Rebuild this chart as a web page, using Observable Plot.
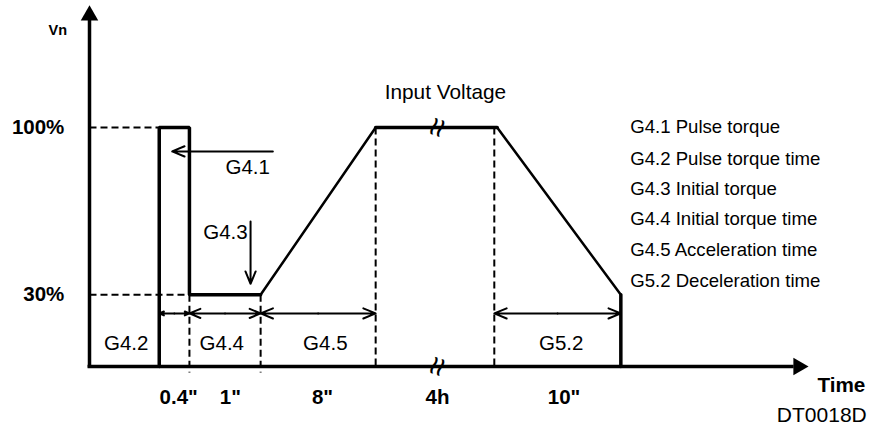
<!DOCTYPE html>
<html>
<head>
<meta charset="utf-8">
<script src="https://cdn.jsdelivr.net/npm/d3@7"></script>
<script src="https://cdn.jsdelivr.net/npm/@observablehq/plot@0.6"></script>
<style>
  html, body { margin: 0; padding: 0; background: #fff; }
  #chart { width: 870px; height: 425px; }
</style>
</head>
<body>
<div id="chart"></div>
<script>
// Schematic time axis (0..100 = axis length), voltage in % of Vn
const waveT = [9.7, 9.7, 13.9, 13.9, 23.8, 39.8, 56.7, 73.9, 73.9];
const waveV = [0, 100, 100, 30, 30, 100, 100, 30, 0];

// dashed guides
const guideX1 = [0, 0, 13.9, 23.8, 39.8, 56.3];
const guideX2 = [9.7, 13.9, 13.9, 23.8, 39.8, 56.3];
const guideY1 = [100, 30, 30, 30, 100, 100];
const guideY2 = [100, 30, -2.5, -2.5, 0, 0];

// dimension spans
const spanStart = [9.7, 13.9, 23.8, 56.3];
const spanEnd = [13.9, 23.8, 39.8, 73.9];
const spanLevel = 22.2;

const spanLabels = ["G4.2", "G4.4", "G4.5", "G5.2"];
const spanLabelX = [5.1, 18.4, 32.8, 65.6];

const timeLabels = ["0.4\"", "1\"", "8\"", "4h", "10\""];
const timeLabelX = [12.4, 19.6, 32.4, 48.4, 66.0];

const levelLabels = ["100%", "30%"];
const levelValues = [100, 30];

const legendLabels = [
  "G4.1 Pulse torque",
  "G4.2 Pulse torque time",
  "G4.3 Initial torque",
  "G4.4 Initial torque time",
  "G4.5 Acceleration time",
  "G5.2 Deceleration time"
];
const legendY = [100, 86.8, 74.2, 61.6, 48.7, 35.7];

const breakX = 48.4;
const breakV = [100, 0];

const wave = waveT.map((t, i) => ({t, v: waveV[i]}));
const flat = wave.slice(0, 5);
const ramps = [[wave[4], wave[5]], [wave[6], wave[7]]];
const tops = [[wave[5], wave[6]], [wave[7], wave[8]]];
const guides = guideX1.map((x, i) => ({x1: x, x2: guideX2[i], y1: guideY1[i], y2: guideY2[i]}));
const halfArrows = [];
spanStart.forEach((s, i) => {
  const m = (s + spanEnd[i]) / 2;
  halfArrows.push({x1: m, x2: s});
  halfArrows.push({x1: m, x2: spanEnd[i]});
});

const font = "Liberation Sans, Arial, Helvetica, sans-serif";
const arrowStyle = {stroke: "#000", strokeWidth: 2, headLength: 10, headAngle: 45};

const chart = Plot.plot({
  width: 870,
  height: 425,
  margin: 0,
  x: {domain: [0, 100], range: [89, 808], axis: null},
  y: {domain: [0, 100], range: [366, 127], axis: null},
  style: {fontFamily: font, background: "#fff", color: "#000", overflow: "visible"},
  marks: [
    // dashed guides
    Plot.link(guides, {x1: "x1", x2: "x2", y1: "y1", y2: "y2", stroke: "#000", strokeWidth: 2, strokeDasharray: "7,4"}),
    // axes
    Plot.ruleX([0], {y1: -0.6, y2: 145, stroke: "#000", strokeWidth: 3.5}),
    Plot.ruleY([0], {x1: -0.2, x2: 98, stroke: "#000", strokeWidth: 3.5}),
    Plot.dot([{x: 0, y: 146.9}], {x: "x", y: "y", symbol: "triangle", r: 6.5, fill: "#000", stroke: "none"}),
    Plot.dot([{x: 98.6, y: 0}], {x: "x", y: "y", symbol: "triangle", r: 6.5, rotate: 90, fill: "#000", stroke: "none"}),
    // waveform
    Plot.line(flat, {x: "t", y: "v", stroke: "#000", strokeWidth: 3.5, strokeLinejoin: "miter"}),
    ...ramps.map(seg => Plot.line(seg, {x: "t", y: "v", stroke: "#000", strokeWidth: 2.5})),
    ...tops.map(seg => Plot.line(seg, {x: "t", y: "v", stroke: "#000", strokeWidth: 3.5})),
    // dimension arrows
    Plot.arrow(halfArrows, {x1: "x1", x2: "x2", y1: spanLevel, y2: spanLevel, ...arrowStyle}),
    // G4.1 and G4.3 pointer arrows
    Plot.arrow([{x1: 25.5, x2: 11.5, y1: 90, y2: 90}], {x1: "x1", x2: "x2", y1: "y1", y2: "y2", ...arrowStyle}),
    Plot.arrow([{x1: 22.4, x2: 22.4, y1: 60.7, y2: 34.6}], {x1: "x1", x2: "x2", y1: "y1", y2: "y2", ...arrowStyle}),
    // break marks
    Plot.text(breakV, {x: breakX, y: d => d, text: () => "≈", rotate: -72, fontSize: 34, fill: "#000"}),
    // labels
    Plot.text(["G4.1"], {x: 25.1, y: 83.3, text: d => d, textAnchor: "end", fontSize: 20.5, fill: "#000"}),
    Plot.text(["G4.3"], {x: 22.0, y: 56, text: d => d, textAnchor: "end", fontSize: 20.5, fill: "#000"}),
    Plot.text(spanLabels, {x: (d, i) => spanLabelX[i], y: 9.6, text: d => d, fontSize: 20.5, fill: "#000"}),
    Plot.text(timeLabels, {x: (d, i) => timeLabelX[i], y: -13, text: d => d, fontSize: 20.5, fontWeight: "bold", fill: "#000"}),
    Plot.text(levelLabels, {x: -3.5, y: (d, i) => levelValues[i], text: d => d, textAnchor: "end", fontSize: 20.5, fontWeight: "bold", fill: "#000"}),
    Plot.text(["Vn"], {x: -4.4, y: 140.5, text: d => d, fontSize: 14.5, fontWeight: "bold", fill: "#000"}),
    Plot.text(["Input Voltage"], {x: 49.5, y: 114.6, text: d => d, fontSize: 20.8, fill: "#000"}),
    Plot.text(legendLabels, {x: 75.2, y: (d, i) => legendY[i], text: d => d, textAnchor: "start", fontSize: 18.6, fill: "#000"}),
    Plot.text(["Time"], {x: 107.9, y: -8, text: d => d, textAnchor: "end", fontSize: 20.7, fontWeight: "bold", fill: "#000"}),
    Plot.text(["DT0018D"], {x: 108.1, y: -20.5, text: d => d, textAnchor: "end", fontSize: 21, fill: "#000"})
  ]
});
document.getElementById("chart").appendChild(chart);
</script>
</body>
</html>
